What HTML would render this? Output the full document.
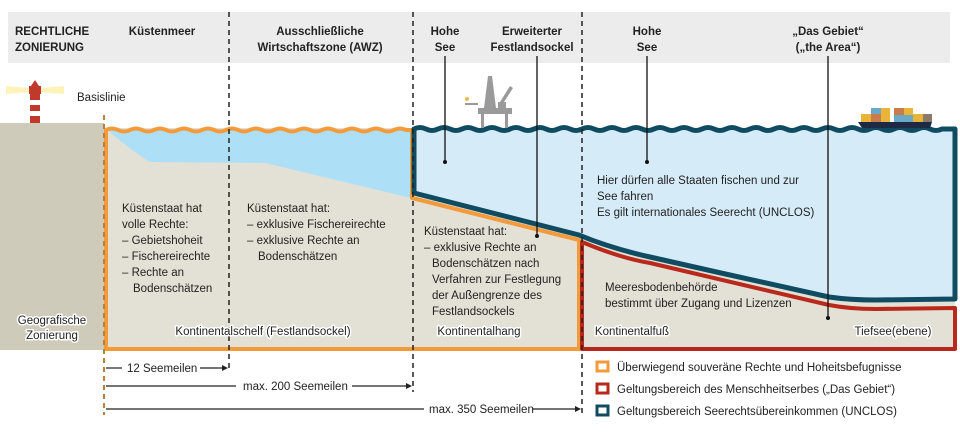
<!DOCTYPE html>
<html><head><meta charset="utf-8"><style>
html,body{margin:0;padding:0;background:#fff}
svg{display:block}
text{font-family:"Liberation Sans",sans-serif;font-size:11.5px;fill:#222}
.b{font-weight:bold}
.h{stroke:#fff;stroke-width:3;paint-order:stroke;stroke-linejoin:round}
</style></head><body>
<svg width="960" height="432" viewBox="0 0 960 432" xmlns="http://www.w3.org/2000/svg">
<!-- header -->
<rect x="8" y="12" width="942" height="51" fill="#ececec"/>
<text class="b" x="15" y="35">RECHTLICHE</text>
<text class="b" x="15" y="51">ZONIERUNG</text>
<text class="b" x="162" y="35" text-anchor="middle">Küstenmeer</text>
<text class="b" x="320" y="35" text-anchor="middle">Ausschließliche</text>
<text class="b" x="320" y="51" text-anchor="middle">Wirtschaftszone (AWZ)</text>
<text class="b" x="445" y="35" text-anchor="middle">Hohe</text>
<text class="b" x="445" y="51" text-anchor="middle">See</text>
<text class="b" x="532" y="35" text-anchor="middle">Erweiterter</text>
<text class="b" x="532" y="51" text-anchor="middle">Festlandsockel</text>
<text class="b" x="647" y="35" text-anchor="middle">Hohe</text>
<text class="b" x="647" y="51" text-anchor="middle">See</text>
<text class="b" x="828" y="35" text-anchor="middle">„Das Gebiet“</text>
<text class="b" x="828" y="51" text-anchor="middle">(„the Area“)</text>

<!-- land -->
<rect x="0" y="123" width="104" height="227" fill="#cfcbbb"/>
<!-- lighthouse -->
<polygon points="6,86 30,88 30,92 6,94" fill="#fdf3b8"/>
<polygon points="64,86 40,88 40,92 64,94" fill="#fdf3b8"/>
<rect x="29" y="86" width="12" height="8" fill="#c0392b"/>
<polygon points="31,86 35,80 39,86" fill="#c0392b"/>
<rect x="30" y="94" width="10" height="29" fill="#c0392b"/>
<rect x="30" y="100" width="10" height="5" fill="#fff"/>
<rect x="30" y="111" width="10" height="5" fill="#fff"/>
<text x="77" y="101">Basislinie</text>

<!-- beige seabed area -->
<rect x="106" y="128" width="849" height="222" fill="#e3e0d5"/>
<!-- shallow water -->
<path d="M108,130 L411,130 L411,198 L265,163 L150,162 Q130,150 110,132 Z" fill="#ade0f7"/>
<!-- deep water -->
<path d="M414,130 L955,130 L955,299 L875,300 L829,297 L721,273 L650,257 L579,235 L414,193 Z" fill="#d6ebf8"/>

<!-- orange outline -->
<path d="M106,130 Q112,127 118,130 T130,130 T142,130 T154,130 T166,130 T178,130 T190,130 T202,130 T214,130 T226,130 T238,130 T250,130 T262,130 T274,130 T286,130 T298,130 T310,130 T322,130 T334,130 T346,130 T358,130 T370,130 T382,130 T394,130 T406,130 L412,130 L412,198 L579,240 L579,349 L106,349 Z" fill="none" stroke="#f39a3b" stroke-width="4" stroke-linejoin="round"/>
<!-- red outline -->
<path d="M582,242 Q620,258 650,263 L829,305 Q850,309 875,309 L955,308 L955,349 L582,349 Z" fill="none" stroke="#b8291c" stroke-width="4" stroke-linejoin="round"/>
<!-- teal outline -->
<path d="M414,129 Q420,126 426,129 T438,129 T450,129 T462,129 T474,129 T486,129 T498,129 T510,129 T522,129 T534,129 T546,129 T558,129 T570,129 T582,129 T594,129 T606,129 T618,129 T630,129 T642,129 T654,129 T666,129 T678,129 T690,129 T702,129 T714,129 T726,129 T738,129 T750,129 T762,129 T774,129 T786,129 T798,129 T810,129 T822,129 T834,129 T846,129 T858,129 T870,129 T882,129 T894,129 T906,129 T918,129 T930,129 T942,129 L955,129 L955,299 L875,300 Q850,300 829,297 L721,273 L650,257 Q610,248 579,235 L414,193 Z" fill="none" stroke="#0f4c62" stroke-width="5" stroke-linejoin="round"/>

<!-- rig -->
<g fill="#9a9a9a">
<rect x="478" y="108" width="34" height="6"/>
<rect x="481" y="114" width="3" height="14"/><rect x="505" y="114" width="3" height="14"/>
<polygon points="484,108 488,76 492,76 496,108"/>
<rect x="498" y="102" width="8" height="6"/>
<polygon points="500,102 510,86 513,88 504,102"/>
<circle cx="467" cy="99" r="2" fill="#f2b84b"/>
<rect x="465" y="103" width="13" height="2"/>
</g>
<!-- ship -->
<path d="M858,122 L932,122 L930,128 L862,128 Z" fill="#1c2a44"/>
<g>
<rect x="861" y="114" width="10" height="8" fill="#e8b43a"/><rect x="871" y="114" width="10" height="8" fill="#c87b4b"/>
<rect x="871" y="108" width="10" height="6" fill="#6aa9c8"/><rect x="881" y="108" width="9" height="14" fill="#e8b43a"/>
<rect x="894" y="108" width="10" height="7" fill="#c87b4b"/><rect x="904" y="108" width="9" height="7" fill="#e8b43a"/>
<rect x="894" y="115" width="19" height="7" fill="#6aa9c8"/><rect x="913" y="114" width="10" height="8" fill="#e8b43a"/>
<rect x="923" y="114" width="9" height="8" fill="#8a7a6a"/>
</g>

<!-- dashed lines -->
<line x1="104" y1="115" x2="104" y2="415" stroke="#b5823e" stroke-width="2" stroke-dasharray="5,4"/>
<line x1="229" y1="12" x2="229" y2="372" stroke="#222" stroke-width="1.5" stroke-dasharray="5,4"/>
<line x1="413" y1="12" x2="413" y2="392" stroke="#222" stroke-width="1.5" stroke-dasharray="5,4"/>
<line x1="582" y1="12" x2="582" y2="415" stroke="#222" stroke-width="1.5" stroke-dasharray="5,4"/>

<!-- leader lines -->
<g stroke="#111" stroke-width="1.3">
<line x1="445" y1="56" x2="445" y2="162"/><line x1="537" y1="56" x2="537" y2="236"/>
<line x1="647" y1="56" x2="647" y2="162"/><line x1="828" y1="56" x2="828" y2="318"/>
</g>
<g fill="#111"><circle cx="445" cy="162" r="2"/><circle cx="537" cy="236" r="2"/><circle cx="647" cy="162" r="2"/><circle cx="828" cy="318" r="2"/></g>

<!-- body texts -->
<text x="122" y="212">Küstenstaat hat</text>
<text x="122" y="228">volle Rechte:</text>
<text x="122" y="244">– Gebietshoheit</text>
<text x="122" y="260">– Fischereirechte</text>
<text x="122" y="276">– Rechte an</text>
<text x="133" y="292">Bodenschätzen</text>
<text x="247" y="212">Küstenstaat hat:</text>
<text x="247" y="228">– exklusive Fischereirechte</text>
<text x="247" y="244">– exklusive Rechte an</text>
<text x="258" y="260">Bodenschätzen</text>
<text x="424" y="235">Küstenstaat hat:</text>
<text x="424" y="251">– exklusive Rechte an</text>
<text x="432" y="267">Bodenschätzen nach</text>
<text x="432" y="283">Verfahren zur Festlegung</text>
<text x="432" y="299">der Außengrenze des</text>
<text x="432" y="315">Festlandsockels</text>
<text x="597" y="184">Hier dürfen alle Staaten fischen und zur</text>
<text x="597" y="200">See fahren</text>
<text x="597" y="216">Es gilt internationales Seerecht (UNCLOS)</text>
<text x="605" y="291">Meeresbodenbehörde</text>
<text x="605" y="307">bestimmt über Zugang und Lizenzen</text>

<text class="h" x="52" y="324" text-anchor="middle">Geografische</text>
<text class="h" x="52" y="339" text-anchor="middle">Zonierung</text>
<text class="h" x="263" y="335" text-anchor="middle">Kontinentalschelf (Festlandsockel)</text>
<text class="h" x="479" y="335" text-anchor="middle">Kontinentalhang</text>
<text class="h" x="632" y="335" text-anchor="middle">Kontinentalfuß</text>
<text class="h" x="893" y="335" text-anchor="middle">Tiefsee(ebene)</text>

<!-- distance arrows -->
<g stroke="#222" stroke-width="1.2">
<line x1="106" y1="368" x2="122" y2="368"/><line x1="200" y1="368" x2="224" y2="368"/>
<line x1="106" y1="386" x2="236" y2="386"/><line x1="352" y1="386" x2="408" y2="386"/>
<line x1="106" y1="409" x2="424" y2="409"/><line x1="532" y1="409" x2="577" y2="409"/>
</g>
<g fill="#222">
<polygon points="228,368 222,365 222,371"/><polygon points="412,386 406,383 406,389"/><polygon points="581,409 575,406 575,412"/>
</g>
<text x="127" y="372">12 Seemeilen</text>
<text x="243" y="390">max. 200 Seemeilen</text>
<text x="429" y="413">max. 350 Seemeilen</text>

<!-- legend -->
<rect x="597" y="362" width="11" height="9" fill="#fff" stroke="#f39a3b" stroke-width="3"/>
<rect x="597" y="384" width="11" height="9" fill="#fff" stroke="#b8291c" stroke-width="3"/>
<rect x="597" y="406" width="11" height="9" fill="#fff" stroke="#0f4c62" stroke-width="3"/>
<text x="617" y="371">Überwiegend souveräne Rechte und Hoheitsbefugnisse</text>
<text x="617" y="393">Geltungsbereich des Menschheitserbes („Das Gebiet“)</text>
<text x="617" y="415">Geltungsbereich Seerechtsübereinkommen (UNCLOS)</text>
</svg>
</body></html>
